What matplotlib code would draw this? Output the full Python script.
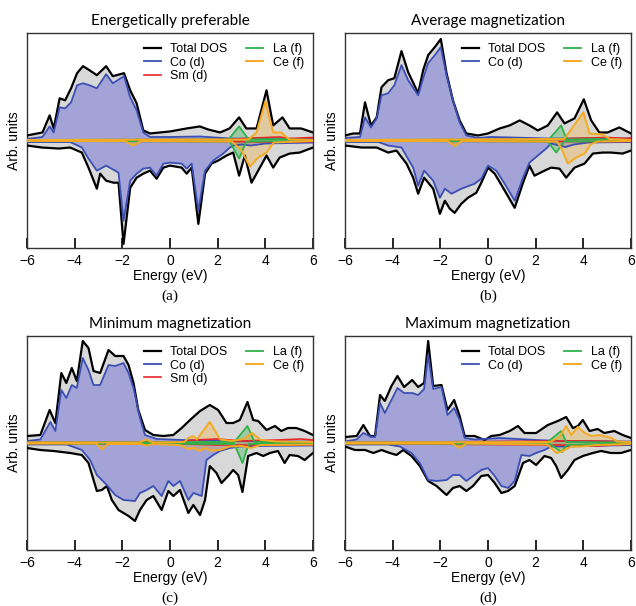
import numpy as np
import matplotlib.pyplot as plt

# spin-resolved DOS, (energy eV, states) pairs, spin down negative
A_TOTAL_UP = [(-6.0, 0.5), (-5.35, 0.8), (-5.05, 2.5), (-4.88, 1.2), (-4.63, 4.2), (-4.4, 4.0),
              (-4.15, 5.2), (-3.9, 6.7), (-3.65, 7.4), (-3.38, 7.0), (-3.07, 6.5), (-2.68, 7.4),
              (-2.4, 6.4), (-1.93, 6.7), (-1.67, 5.0), (-1.4, 3.7), (-1.12, 1.0), (-0.84, 0.7),
              (-0.42, 0.8), (0.0, 0.9), (0.7, 1.2), (1.25, 1.4), (1.6, 1.1), (2.1, 0.8), (2.5, 1.2),
              (2.9, 2.3), (3.2, 1.2), (3.63, 1.2), (4.05, 5.0), (4.33, 1.5), (4.72, 2.3),
              (5.02, 1.2), (5.5, 1.2), (6.0, 0.8)]
A_TOTAL_DN = [(-6.0, -0.5), (-5.37, -0.7), (-4.67, -0.8), (-4.19, -0.7), (-3.7, -1.2), (-3.42, -2.7),
              (-3.07, -4.8), (-2.93, -3.3), (-2.68, -4.0), (-2.37, -4.2), (-2.16, -4.2), (-1.95, -10.3),
              (-1.67, -4.7), (-1.4, -3.7), (-1.12, -3.3), (-0.84, -3.0), (-0.56, -3.8), (-0.28, -2.7),
              (0.0, -2.5), (0.49, -2.7), (0.7, -3.3), (0.91, -2.7), (1.19, -8.3), (1.47, -3.3),
              (1.74, -2.3), (2.02, -2.0), (2.37, -1.5), (2.65, -1.2), (2.9, -3.5), (3.14, -1.5),
              (3.42, -4.2), (3.7, -3.0), (4.05, -1.5), (4.33, -2.7), (4.6, -1.7), (5.02, -1.3),
              (5.44, -1.2), (6.0, -0.7)]
A_CO_UP = [(-6.0, 0.15), (-5.35, 0.35), (-5.05, 1.4), (-4.88, 0.8), (-4.63, 3.3), (-4.4, 3.2),
           (-4.15, 3.8), (-3.9, 5.5), (-3.65, 5.7), (-3.38, 5.5), (-3.07, 5.2), (-2.68, 6.6),
           (-2.4, 5.7), (-1.93, 6.4), (-1.67, 4.3), (-1.4, 3.0), (-1.12, 0.8), (-0.84, 0.35),
           (0.0, 0.35), (1.25, 0.4), (2.5, 0.2), (6.0, 0.15)]
A_CO_DN = [(-6.0, -0.15), (-4.19, -0.15), (-3.7, -0.7), (-3.42, -1.8), (-3.07, -3.0), (-2.68, -2.5),
           (-2.16, -3.2), (-1.95, -8.0), (-1.67, -4.0), (-1.4, -3.3), (-1.12, -2.8), (-0.84, -2.7),
           (-0.56, -3.5), (-0.28, -2.3), (0.0, -2.2), (0.49, -2.3), (0.7, -2.8), (0.91, -2.3),
           (1.19, -7.0), (1.47, -3.0), (1.81, -2.0), (2.23, -1.3), (2.51, -0.7), (2.65, -0.5),
           (3.0, -0.4), (3.4, -0.5), (4.0, -0.3), (6.0, -0.2)]
A_LA_UP = [(-6.0, 0.05), (2.45, 0.1), (2.9, 1.4), (3.3, 0.1), (4.5, 0.15), (6.0, 0.05)]
A_LA_DN = [(-6.0, -0.05), (2.5, -0.1), (2.9, -1.8), (3.2, -0.1), (6.0, -0.05)]
A_CE_UP = [(-6.0, 0.05), (3.3, 0.1), (3.63, 0.8), (4.0, 3.9), (4.33, 0.8), (4.67, 0.8),
           (5.0, 0.1), (6.0, 0.05)]
A_CE_DN = [(-6.0, -0.05), (-1.9, -0.05), (-1.55, -0.5), (-1.2, -0.05), (2.6, -0.1), (3.0, -1.0),
           (3.35, -2.6), (3.7, -1.7), (4.05, -1.2), (4.35, -0.2), (6.0, -0.05)]
A_SM_UP = [(-6.0, 0.05), (2.5, 0.1), (3.5, 0.25), (4.6, 0.35), (5.0, 0.2), (6.0, 0.3)]
A_SM_DN = [(-6.0, -0.05), (2.5, -0.1), (4.0, -0.15), (6.0, -0.1)]

B_TOTAL_UP = [(-6.0, 0.5), (-5.65, 0.7), (-5.37, 0.7), (-5.16, 3.8), (-4.91, 1.5), (-4.67, 2.3),
              (-4.47, 5.3), (-4.19, 6.0), (-3.93, 6.2), (-3.63, 8.9), (-3.35, 6.8), (-2.93, 4.7),
              (-2.72, 7.0), (-2.51, 8.5), (-2.23, 9.3), (-1.98, 10.1), (-1.74, 6.7), (-1.47, 4.0),
              (-1.19, 2.0), (-0.91, 0.7), (-0.42, 0.5), (0.0, 0.7), (0.49, 1.2), (0.91, 1.5),
              (1.33, 2.0), (1.74, 1.5), (2.09, 1.0), (2.51, 1.5), (2.9, 2.8), (3.21, 1.7),
              (3.63, 2.2), (4.02, 4.1), (4.33, 2.0), (4.67, 0.8), (5.02, 0.8), (5.51, 1.3), (6.0, 0.7)]
B_TOTAL_DN = [(-6.0, -0.5), (-5.3, -0.7), (-4.67, -0.7), (-4.19, -1.2), (-3.84, -1.0), (-3.42, -2.3),
              (-3.14, -3.7), (-2.93, -5.3), (-2.68, -3.7), (-2.3, -4.8), (-2.02, -7.3), (-1.81, -6.0),
              (-1.6, -6.8), (-1.4, -7.2), (-1.12, -6.3), (-0.84, -5.7), (-0.49, -5.2), (-0.28, -4.2),
              (0.0, -2.7), (0.28, -3.3), (0.63, -4.7), (1.12, -6.7), (1.47, -4.2), (1.74, -2.5),
              (1.95, -3.5), (2.37, -3.0), (2.65, -2.7), (3.0, -2.8), (3.28, -3.7), (3.63, -2.7),
              (4.05, -2.3), (4.4, -1.3), (4.81, -1.2), (5.16, -1.2), (5.65, -1.3), (6.0, -1.0)]
B_CO_UP = [(-6.0, 0.25), (-5.37, 0.35), (-5.16, 2.3), (-4.91, 1.3), (-4.67, 2.2), (-4.47, 4.5),
           (-4.19, 4.7), (-3.93, 5.5), (-3.63, 7.5), (-3.35, 6.0), (-2.93, 4.5), (-2.72, 6.2),
           (-2.51, 7.7), (-2.23, 8.5), (-1.98, 9.3), (-1.74, 6.5), (-1.47, 4.0), (-1.19, 1.8),
           (-0.91, 0.5), (-0.42, 0.25), (0.1, 0.35), (1.0, 0.3), (2.5, 0.2), (6.0, 0.2)]
B_CO_DN = [(-6.0, -0.15), (-4.6, -0.15), (-4.19, -0.5), (-3.63, -0.7), (-3.14, -2.7), (-2.93, -4.5),
           (-2.68, -3.0), (-2.3, -4.0), (-2.02, -5.7), (-1.81, -4.8), (-1.53, -5.3), (-1.12, -4.8),
           (-0.56, -4.3), (-0.28, -3.8), (0.0, -2.5), (0.35, -3.0), (0.7, -4.3), (1.12, -6.0),
           (1.47, -3.7), (1.74, -2.2), (2.09, -1.5), (2.44, -0.8), (2.65, -0.3), (3.25, -0.65),
           (3.6, -0.4), (4.2, -0.2), (6.0, -0.15)]
B_LA_UP = [(-6.0, 0.05), (2.55, 0.1), (3.07, 1.5), (3.3, 0.1), (4.5, 0.15), (6.0, 0.05)]
B_LA_DN = [(-6.0, -0.05), (2.5, -0.1), (2.86, -1.2), (3.2, -0.1), (6.0, -0.05)]
B_CE_UP = [(-6.0, 0.05), (3.2, 0.15), (4.0, 2.8), (4.26, 0.7), (4.8, 0.6), (5.1, 0.15), (6.0, 0.05)]
B_CE_DN = [(-6.0, -0.05), (-1.7, -0.05), (-1.4, -0.55), (-1.1, -0.05), (2.9, -0.1), (3.1, -0.9),
           (3.35, -2.3), (3.7, -1.7), (4.05, -1.3), (4.3, -0.4), (4.6, -0.1), (6.0, -0.05)]
B_SM_UP = [(-6.0, 0.05), (2.5, 0.1), (3.5, 0.2), (5.0, 0.3), (5.8, 0.2), (6.0, 0.25)]
B_SM_DN = [(-6.0, -0.05), (3.0, -0.1), (6.0, -0.1)]

C_TOTAL_UP = [(-6.0, 0.7), (-5.44, 0.8), (-5.05, 3.3), (-4.81, 2.0), (-4.56, 7.0), (-4.35, 6.0),
              (-4.12, 7.5), (-3.91, 6.2), (-3.66, 10.2), (-3.42, 9.5), (-3.21, 7.2), (-2.93, 7.0),
              (-2.58, 9.3), (-2.3, 8.7), (-1.95, 8.7), (-1.74, 7.8), (-1.53, 6.0), (-1.33, 3.3),
              (-1.05, 1.3), (-0.7, 0.8), (-0.28, 0.7), (0.14, 0.8), (0.49, 1.5), (0.84, 2.3),
              (1.26, 3.2), (1.67, 3.8), (2.02, 3.3), (2.37, 2.0), (2.65, 2.0), (2.93, 2.3),
              (3.25, 4.1), (3.49, 2.3), (3.7, 2.2), (4.05, 1.3), (4.4, 1.7), (4.67, 1.2),
              (4.95, 1.5), (5.3, 1.5), (5.65, 1.2), (6.0, 0.8)]
C_TOTAL_DN = [(-6.0, -0.5), (-5.44, -0.7), (-4.88, -0.8), (-4.19, -1.0), (-3.7, -1.2), (-3.42, -2.0),
              (-3.07, -4.8), (-2.86, -4.7), (-2.65, -4.3), (-2.44, -5.7), (-2.16, -6.7), (-1.95, -7.0),
              (-1.74, -7.3), (-1.47, -7.8), (-1.26, -6.7), (-0.98, -5.7), (-0.7, -5.3), (-0.35, -6.7),
              (-0.07, -4.8), (0.14, -5.3), (0.42, -4.7), (0.77, -7.0), (0.98, -6.2), (1.26, -7.2),
              (1.47, -5.7), (1.67, -2.3), (1.95, -3.0), (2.16, -4.0), (2.44, -3.3), (2.65, -2.7),
              (2.86, -3.2), (3.04, -4.9), (3.28, -1.3), (3.63, -1.0), (3.91, -1.3), (4.19, -1.0),
              (4.53, -0.8), (4.81, -2.0), (5.02, -1.2), (5.37, -1.3), (5.65, -1.7), (6.0, -1.0)]
C_CO_UP = [(-6.0, 0.2), (-5.44, 0.35), (-5.02, 2.1), (-4.81, 1.2), (-4.56, 5.3), (-4.35, 4.5),
           (-4.12, 5.8), (-3.91, 5.5), (-3.66, 8.5), (-3.42, 7.3), (-3.21, 5.8), (-2.93, 5.8),
           (-2.58, 7.8), (-2.3, 7.7), (-1.95, 8.0), (-1.74, 7.0), (-1.53, 5.5), (-1.26, 2.5),
           (-1.05, 0.8), (-0.56, 0.4), (0.5, 0.3), (2.5, 0.2), (6.0, 0.15)]
C_CO_DN = [(-6.0, -0.15), (-4.33, -0.15), (-3.7, -0.7), (-3.35, -1.7), (-3.07, -3.2), (-2.65, -4.2),
           (-2.3, -5.2), (-1.95, -5.7), (-1.47, -5.8), (-1.26, -5.0), (-0.98, -4.7), (-0.7, -4.3),
           (-0.35, -5.3), (-0.07, -3.8), (0.14, -4.3), (0.42, -3.8), (0.77, -5.7), (0.98, -5.0),
           (1.33, -5.3), (1.53, -1.7), (1.81, -1.2), (2.09, -0.8), (2.51, -0.5), (2.93, -0.35),
           (3.5, -0.3), (6.0, -0.25)]
C_LA_UP = [(-6.0, 0.05), (2.7, 0.1), (3.25, 1.7), (3.55, 0.1), (6.0, 0.05)]
C_LA_DN = [(-6.0, -0.05), (2.7, -0.1), (3.04, -2.0), (3.3, -0.1), (6.0, -0.05)]
C_CE_UP = [(-6.0, 0.05), (-1.3, 0.05), (-1.0, 0.35), (-0.7, 0.05), (0.6, 0.1), (0.77, 0.5),
           (0.98, 0.7), (1.12, 0.35), (1.67, 2.1), (2.1, 0.35), (2.6, 0.2), (3.1, 0.4),
           (3.45, 1.0), (3.8, 0.3), (4.5, 0.15), (6.0, 0.1)]
C_CE_DN = [(-6.0, -0.05), (-3.1, -0.05), (-2.85, -0.65), (-2.6, -0.1), (-1.2, -0.1), (-1.0, -0.25),
           (-0.7, -0.1), (0.4, -0.2), (0.77, -0.6), (0.98, -0.5), (1.25, -0.8), (1.45, -0.5),
           (1.7, -0.75), (2.1, -0.7), (2.5, -0.35), (3.0, -0.3), (3.4, -0.5), (3.8, -0.2), (6.0, -0.15)]
C_SM_UP = [(-6.0, 0.05), (0.4, 0.1), (1.0, 0.3), (2.0, 0.4), (3.0, 0.2), (4.5, 0.3), (5.5, 0.4),
           (6.0, 0.3)]
C_SM_DN = [(-6.0, -0.05), (0.5, -0.1), (2.0, -0.2), (5.0, -0.2), (6.0, -0.15)]

D_TOTAL_UP = [(-6.0, 0.6), (-5.51, 0.7), (-5.23, 1.8), (-4.95, 0.7), (-4.74, 0.7), (-4.53, 4.8),
              (-4.33, 4.2), (-4.05, 5.7), (-3.8, 6.7), (-3.52, 5.6), (-3.18, 6.3), (-2.93, 5.6),
              (-2.68, 6.0), (-2.51, 10.2), (-2.3, 5.7), (-1.95, 5.8), (-1.7, 3.3), (-1.42, 4.3),
              (-1.19, 2.7), (-0.98, 0.7), (-0.56, 0.7), (-0.14, 0.3), (0.14, 0.7), (0.49, 0.8),
              (0.91, 1.2), (1.26, 1.7), (1.53, 1.0), (2.02, 1.0), (2.51, 1.8), (2.93, 2.2),
              (3.28, 2.6), (3.56, 1.5), (3.77, 1.7), (3.98, 2.3), (4.26, 1.2), (4.6, 1.4),
              (4.88, 1.0), (5.3, 1.2), (5.65, 0.8), (6.0, 0.5)]
D_TOTAL_DN = [(-6.0, -0.35), (-5.58, -0.7), (-5.16, -0.7), (-4.81, -1.0), (-4.47, -0.7), (-4.12, -1.0),
              (-3.84, -1.2), (-3.56, -0.7), (-3.21, -1.3), (-2.86, -2.3), (-2.51, -3.8), (-2.16, -4.3),
              (-1.74, -5.2), (-1.47, -4.5), (-1.19, -4.3), (-0.91, -4.8), (-0.63, -4.3), (-0.28, -3.3),
              (0.0, -3.2), (0.28, -4.0), (0.56, -5.0), (0.84, -4.8), (1.12, -4.3), (1.47, -2.0),
              (1.74, -1.7), (2.02, -2.2), (2.37, -1.3), (2.65, -1.5), (2.86, -2.3), (3.07, -3.5),
              (3.35, -2.7), (3.63, -1.7), (3.98, -1.3), (4.4, -1.0), (4.74, -0.8), (5.16, -1.0),
              (5.58, -1.0), (6.0, -0.7)]
D_CO_UP = [(-6.0, 0.15), (-5.51, 0.35), (-5.23, 1.0), (-4.88, 0.6), (-4.74, 0.6), (-4.53, 4.0),
           (-4.33, 3.0), (-4.05, 4.3), (-3.8, 5.5), (-3.52, 5.0), (-3.18, 5.0), (-2.93, 4.8),
           (-2.68, 5.4), (-2.51, 8.8), (-2.3, 5.4), (-1.95, 5.6), (-1.7, 2.8), (-1.42, 3.5),
           (-1.19, 2.3), (-0.98, 0.5), (-0.56, 0.35), (0.5, 0.5), (1.26, 0.4), (2.0, 0.3),
           (3.0, 0.2), (6.0, 0.15)]
D_CO_DN = [(-6.0, -0.15), (-4.19, -0.15), (-3.7, -0.35), (-3.21, -1.0), (-2.86, -2.0), (-2.51, -3.7),
           (-2.16, -3.8), (-1.74, -3.7), (-1.47, -3.2), (-1.19, -3.2), (-0.91, -3.8), (-0.63, -3.3),
           (-0.28, -2.7), (0.0, -2.5), (0.28, -3.3), (0.56, -4.3), (0.84, -4.5), (1.12, -3.8),
           (1.4, -1.2), (1.74, -1.3), (2.02, -1.0), (2.37, -0.7), (2.65, -0.35), (3.2, -0.35),
           (6.0, -0.2)]
D_LA_UP = [(-6.0, 0.05), (2.5, 0.1), (2.86, 0.8), (3.07, 1.2), (3.28, 0.1), (6.0, 0.05)]
D_LA_DN = [(-6.0, -0.05), (2.6, -0.1), (2.9, -0.6), (3.1, -0.9), (3.3, -0.2), (6.0, -0.05)]
D_CE_UP = [(-6.0, 0.05), (2.6, 0.1), (3.0, 0.6), (3.28, 1.7), (3.49, 0.8), (3.77, 1.6), (4.05, 1.0),
           (4.33, 0.7), (4.67, 0.8), (5.02, 0.6), (5.2, 0.5), (5.4, 0.15), (6.0, 0.1)]
D_CE_DN = [(-6.0, -0.05), (-1.5, -0.05), (-1.2, -0.5), (-0.9, -0.05), (2.5, -0.15), (2.86, -1.0),
           (3.14, -0.8), (3.49, -0.35), (3.9, -0.35), (4.6, -0.2), (6.0, -0.1)]
D_SM_UP = [(-6.0, 0.05), (3.0, 0.2), (4.5, 0.2), (6.0, 0.1)]
D_SM_DN = [(-6.0, -0.05), (3.0, -0.2), (4.5, -0.3), (6.0, -0.1)]

TITLES = ["Energetically preferable", "Average magnetization",
          "Minimum magnetization", "Maximum magnetization"]
CAPTIONS = ["(a)", "(b)", "(c)", "(d)"]
SHOW_SM = [True, False, True, False]

C_TOTAL = "black"
C_TOTAL_FILL = "#d8d8d8"
C_CO = "#3b4fb3"
C_CO_FILL = "#a3a3d8"
C_SM = "#e8262a"
C_LA = "#2eb24a"
C_CE = "#f6aa22"


def xy(pts):
    e, v = zip(*pts)
    return np.array(e), np.array(v)


def draw(ax, tot_up, tot_dn, co_up, co_dn, la_up, la_dn, ce_up, ce_dn, sm_up, sm_dn,
         title, caption, show_sm):
    # gray total DOS envelope, then Co d on top
    for pts in (tot_up, tot_dn):
        e, v = xy(pts)
        ax.fill_between(e, 0, v, color=C_TOTAL_FILL, lw=0, zorder=1)
    for pts in (co_up, co_dn):
        e, v = xy(pts)
        ax.fill_between(e, 0, v, color=C_CO_FILL, lw=0, zorder=2)
    for pts in (la_up, la_dn):
        e, v = xy(pts)
        ax.fill_between(e, 0, v, color=C_LA, alpha=0.35, lw=0, zorder=3)
    for pts in (ce_up, ce_dn):
        e, v = xy(pts)
        ax.fill_between(e, 0, v, color=C_CE, alpha=0.3, lw=0, zorder=3)

    e, v = xy(tot_up)
    ax.plot(e, v, color=C_TOTAL, lw=1.6, zorder=5, label="Total DOS")
    e, v = xy(tot_dn)
    ax.plot(e, v, color=C_TOTAL, lw=1.6, zorder=5)
    e, v = xy(co_up)
    ax.plot(e, v, color=C_CO, lw=1.3, zorder=6, label="Co (d)")
    e, v = xy(co_dn)
    ax.plot(e, v, color=C_CO, lw=1.3, zorder=6)
    e, v = xy(sm_up)
    ax.plot(e, v, color=C_SM, lw=1.2, zorder=7, label="Sm (d)" if show_sm else None)
    e, v = xy(sm_dn)
    ax.plot(e, v, color=C_SM, lw=1.2, zorder=7)
    e, v = xy(la_up)
    ax.plot(e, v, color=C_LA, lw=1.3, zorder=8, label="La (f)")
    e, v = xy(la_dn)
    ax.plot(e, v, color=C_LA, lw=1.3, zorder=8)
    e, v = xy(ce_up)
    ax.plot(e, v, color=C_CE, lw=1.4, zorder=9, label="Ce (f)")
    e, v = xy(ce_dn)
    ax.plot(e, v, color=C_CE, lw=1.4, zorder=9)

    ax.set_xlim(-6, 6)
    ax.set_ylim(-10.7, 10.7)
    ax.set_xticks([-6, -4, -2, 0, 2, 4, 6])
    ax.set_yticks([])
    ax.tick_params(axis="x", direction="in", length=7, width=1.2, labelsize=10, pad=4)
    for s in ax.spines.values():
        s.set_linewidth(1.0)
        s.set_color("#333333")
    ax.set_xlabel("Energy (eV)", fontsize=10, labelpad=1)
    ax.set_ylabel("Arb. units", fontsize=10, labelpad=4)
    ax.set_title(title, fontsize=11, family="Lato", pad=6)
    ax.legend(loc="upper right", ncol=2, frameon=False, fontsize=9, handlelength=1.35,
              handletextpad=0.75, columnspacing=1.5, labelspacing=0.1,
              borderaxespad=0.0, bbox_to_anchor=(0.985, 0.975))
    ax.text(0.5, -0.225, caption, transform=ax.transAxes, ha="center", va="center",
            fontsize=11, family="Liberation Serif")


plt.rcParams["font.family"] = ["Liberation Sans", "DejaVu Sans"]
fig = plt.figure(figsize=(6.36, 6.06), dpi=100)

panels = [
    (A_TOTAL_UP, A_TOTAL_DN, A_CO_UP, A_CO_DN, A_LA_UP, A_LA_DN, A_CE_UP, A_CE_DN, A_SM_UP, A_SM_DN),
    (B_TOTAL_UP, B_TOTAL_DN, B_CO_UP, B_CO_DN, B_LA_UP, B_LA_DN, B_CE_UP, B_CE_DN, B_SM_UP, B_SM_DN),
    (C_TOTAL_UP, C_TOTAL_DN, C_CO_UP, C_CO_DN, C_LA_UP, C_LA_DN, C_CE_UP, C_CE_DN, C_SM_UP, C_SM_DN),
    (D_TOTAL_UP, D_TOTAL_DN, D_CO_UP, D_CO_DN, D_LA_UP, D_LA_DN, D_CE_UP, D_CE_DN, D_SM_UP, D_SM_DN),
]
boxes = [
    [27 / 636, 1 - 248 / 606, 286 / 636, 215 / 606],
    [345 / 636, 1 - 248 / 606, 286 / 636, 215 / 606],
    [27 / 636, 1 - 550 / 606, 286 / 636, 214 / 606],
    [345 / 636, 1 - 550 / 606, 286 / 636, 214 / 606],
]

for i, data in enumerate(panels):
    ax = fig.add_axes(boxes[i])
    draw(ax, *data, TITLES[i], CAPTIONS[i], SHOW_SM[i])

fig.savefig("out.png", dpi=100)
